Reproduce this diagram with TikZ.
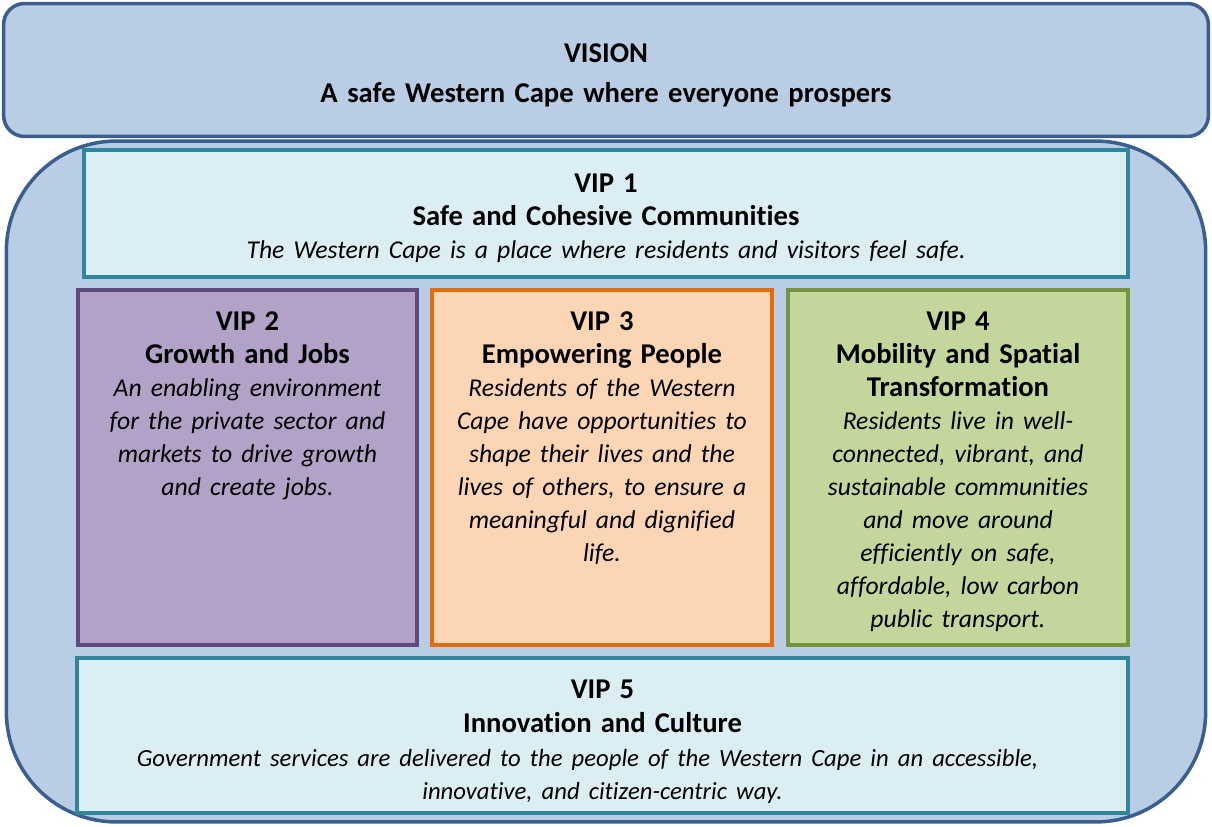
\documentclass[tikz,border=0pt]{standalone}
\usepackage{fontspec}
\setmainfont{Carlito}[Ligatures=NoCommon]
\usepackage{xcolor}
\usepackage{tikz}
\definecolor{frameblue}{HTML}{3A5F8F}
\definecolor{framefill}{HTML}{B9CDE5}
\definecolor{tealline}{HTML}{31859C}
\definecolor{tealfill}{HTML}{DBEEF4}
\definecolor{purpline}{HTML}{604A7B}
\definecolor{purpfill}{HTML}{B3A2C7}
\definecolor{orngline}{HTML}{E46C0A}
\definecolor{orngfill}{HTML}{FCD5B5}
\definecolor{oliveline}{HTML}{77933C}
\definecolor{olivefill}{HTML}{C3D69B}
\usetikzlibrary{positioning}
\newcommand{\vtitle}{\fontsize{16.3}{18.8}\selectfont\bfseries}
\newcommand{\vdesc}{\fontsize{14.6}{18.8}\selectfont\mdseries\itshape}

\tikzset{
  box/.style={draw,line width=2.4pt,inner sep=0pt,outer sep=0pt},
  framebox/.style={box,draw=frameblue,fill=framefill,line width=2pt},
  vipbox/.style 2 args={box,draw=#1,fill=#2},
  viptext/.style={inner sep=0pt,align=center,text width=#1,
    font=\fontsize{15.5}{18.8}\selectfont},
}

\begin{document}
\begin{tikzpicture}[x=0.02cm,y=-0.02cm]
\useasboundingbox (0,0) rectangle (1212,827);

% frames
\node[framebox,rounded corners=2.2cm,minimum width=23.99cm,minimum height=13.62cm] (pillars) at (606,481.5) {};
\node[framebox,rounded corners=0.42cm,minimum width=24.1cm,minimum height=2.66cm] (vision) at (606,70) {};

% the five VIPs
\node[vipbox={tealline}{tealfill},minimum width=20.88cm,minimum height=2.54cm] (vip1) at (606,213.5) {};
\node[vipbox={purpline}{purpfill},minimum width=6.78cm,minimum height=7.1cm] (vip2) at (247.5,467.5) {};
\node[vipbox={orngline}{orngfill},minimum width=6.8cm,minimum height=7.1cm] (vip3) at (602,467.5) {};
\node[vipbox={oliveline}{olivefill},minimum width=6.8cm,minimum height=7.1cm] (vip4) at (958,467.5) {};
\node[vipbox={tealline}{tealfill},minimum width=21.02cm,minimum height=3.1cm] (vip5) at (602.5,735.5) {};

% texts
\node[viptext=20cm,font=\fontsize{16.3}{22.7}\selectfont\bfseries,below=0.8cm of vision.north] (visiontxt)
  {VISION\\A safe Western Cape where everyone prospers};
\node[viptext=20cm,below=0.47cm of vip1.north] (vip1txt)
  {\vtitle VIP 1\\Safe and Cohesive Communities\\
   \vdesc The Western Cape is a place where residents and visitors feel safe.};
\node[viptext=6.5cm,below=0.43cm of vip2.north] (vip2txt)
  {\vtitle VIP 2\\Growth and Jobs\\\vdesc
   An enabling environment\\for the private sector and\\markets to drive growth\\and create jobs.};
\node[viptext=6.5cm,below=0.43cm of vip3.north] (vip3txt)
  {\vtitle VIP 3\\Empowering People\\\vdesc
   Residents of the Western\\Cape have opportunities to\\shape their lives and the\\lives of others, to ensure a\\meaningful and dignified\\life.};
\node[viptext=6.5cm,below=0.43cm of vip4.north] (vip4txt)
  {\vtitle VIP 4\\Mobility and Spatial\\Transformation\\\vdesc
   Residents live in well-\\connected, vibrant, and\\sustainable communities\\and move around\\efficiently on safe,\\affordable, low carbon\\public transport.};
\node[viptext=20.5cm,below=0.43cm of vip5.north] (vip5txt)
  {\fontsize{16.3}{19.3}\selectfont\bfseries VIP 5\\Innovation and Culture\\
   \fontsize{14.05}{19.4}\selectfont\mdseries\itshape
   Government services are delivered to the people of the Western Cape in an accessible,\makebox[0.6cm]{}\\innovative, and citizen-centric way.};
\end{tikzpicture}
\end{document}
